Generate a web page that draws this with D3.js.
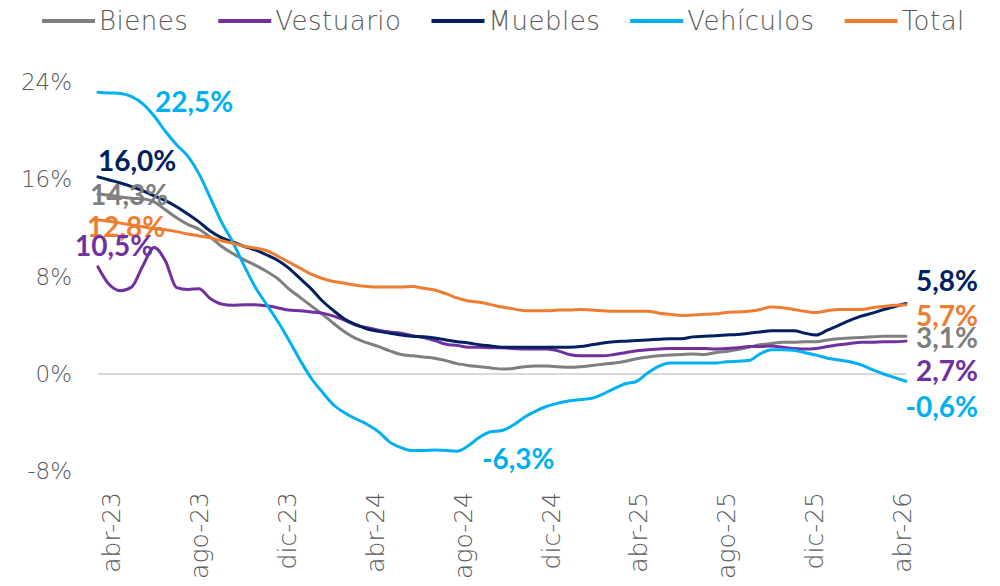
<!DOCTYPE html>
<html>
<head>
<meta charset="utf-8">
<script src="https://cdn.jsdelivr.net/npm/d3@7"></script>
<style>
  body { margin: 0; background: #fff; }
  svg { display: block; }
</style>
</head>
<body>
<div id="viz"></div>
<script>
// semi-monthly readings, from mid mar-23 to early abr-26 (t in months from abr-23)
var tInicio = -0.6, tFin = 36.2;

var bienes = [14.8,14.7,14.55,14.45,14.4,14.15,13.5,12.85,12.3,11.9,
  11.25,10.5,9.9,9.4,8.95,8.45,7.85,7.0,6.3,5.6,
  4.9,4.15,3.45,2.9,2.55,2.25,1.9,1.6,1.5,1.4,
  1.3,1.1,0.85,0.7,0.6,0.5,0.4,0.45,0.6,0.65,
  0.65,0.6,0.55,0.6,0.7,0.8,0.9,1.05,1.25,1.4,
  1.5,1.55,1.6,1.65,1.6,1.75,1.85,2.0,2.2,2.4,
  2.5,2.6,2.6,2.65,2.65,2.8,2.9,2.95,3.0,3.05,
  3.1,3.1,3.1];

var vestuario = [8.8,7.35,6.85,7.15,8.9,10.4,9.3,7.1,6.95,7.0,
  6.2,5.75,5.65,5.7,5.7,5.6,5.45,5.25,5.2,5.1,
  5.0,4.75,4.4,4.0,3.8,3.6,3.45,3.35,3.15,3.0,
  2.75,2.45,2.35,2.2,2.2,2.15,2.15,2.1,2.05,2.05,
  2.05,1.9,1.6,1.5,1.5,1.5,1.6,1.75,1.9,2.0,
  2.05,2.1,2.1,2.1,2.1,2.05,2.1,2.15,2.25,2.25,
  2.3,2.2,2.1,2.05,2.1,2.25,2.4,2.5,2.6,2.6,
  2.65,2.65,2.7];

var muebles = [16.2,15.95,15.7,15.4,15.05,14.65,14.25,13.75,13.15,12.5,
  11.75,11.2,10.85,10.5,10.2,9.8,9.35,8.7,7.85,7.0,
  6.0,5.2,4.5,4.05,3.7,3.5,3.35,3.2,3.1,3.05,
  2.95,2.8,2.65,2.55,2.4,2.3,2.2,2.2,2.2,2.2,
  2.2,2.2,2.2,2.25,2.4,2.55,2.65,2.7,2.75,2.8,
  2.85,2.9,2.9,3.05,3.1,3.15,3.2,3.25,3.35,3.45,
  3.55,3.55,3.55,3.35,3.2,3.6,4.0,4.4,4.75,5.0,
  5.3,5.55,5.8];

var vehiculos = [23.15,23.1,23.05,22.8,22.2,21.2,19.95,18.85,17.9,16.45,
  14.5,12.5,10.85,8.95,7.15,5.75,4.35,2.8,1.15,-0.35,
  -1.5,-2.55,-3.2,-3.7,-4.15,-4.75,-5.6,-6.05,-6.3,-6.3,
  -6.25,-6.3,-6.35,-5.9,-5.2,-4.75,-4.65,-4.2,-3.55,-3.05,
  -2.65,-2.4,-2.2,-2.1,-2.0,-1.65,-1.2,-0.8,-0.6,0.1,
  0.65,0.9,0.9,0.9,0.9,0.9,1.0,1.05,1.1,1.65,
  2.0,2.0,1.95,1.75,1.55,1.3,1.15,1.0,0.75,0.35,
  0.0,-0.3,-0.6];

var total = [12.65,12.55,12.4,12.25,12.1,11.95,11.85,11.7,11.5,11.35,
  11.2,10.95,10.75,10.5,10.35,10.15,9.7,9.2,8.7,8.2,
  7.85,7.6,7.45,7.3,7.2,7.15,7.15,7.15,7.2,7.05,
  6.9,6.6,6.25,6.0,5.9,5.7,5.5,5.35,5.2,5.2,
  5.2,5.25,5.25,5.3,5.25,5.2,5.15,5.15,5.15,5.15,
  5.0,4.9,4.8,4.85,4.9,4.95,5.05,5.1,5.15,5.3,
  5.5,5.45,5.3,5.15,5.05,5.2,5.3,5.3,5.3,5.45,
  5.55,5.65,5.7];

var nombres = ['Bienes', 'Vestuario', 'Muebles', 'Vehículos', 'Total'];
var colores = ['#7f7f7f', '#7030a0', '#002060', '#00b0f0', '#ed7d31'];
var series = [bienes, vestuario, muebles, vehiculos, total];

var mesesTicks = [0, 4, 8, 12, 16, 20, 24, 28, 32, 36];
var etiquetasX = ['abr-23','ago-23','dic-23','abr-24','ago-24','dic-24','abr-25','ago-25','dic-25','abr-26'];
var ticksY = [-8, 0, 8, 16, 24];

// data labels: series index, point index, text
var etiquetas = [
  {s: 3, i: 0, txt: '22,5%', lado: 'izq'},
  {s: 2, i: 0, txt: '16,0%', lado: 'izq'},
  {s: 0, i: 0, txt: '14,3%', lado: 'izq'},
  {s: 4, i: 0, txt: '12,8%', lado: 'izq'},
  {s: 1, i: 0, txt: '10,5%', lado: 'izq'},
  {s: 3, i: 32, txt: '-6,3%', lado: 'izq'},
  {s: 2, i: 72, txt: '5,8%', lado: 'der'},
  {s: 4, i: 72, txt: '5,7%', lado: 'der'},
  {s: 0, i: 72, txt: '3,1%', lado: 'der'},
  {s: 1, i: 72, txt: '2,7%', lado: 'der'},
  {s: 3, i: 72, txt: '-0,6%', lado: 'der'}
];
// offsets of each label from its point (px)
var offsets = [[57, 10], [0, -16], [-8, 1], [-11, 7], [-23, -21], [25, 8],
  [72, -22], [72, 11], [72, 2], [72, 30], [72, 26]];

var width = 1000, height = 586;

var svg = d3.select('#viz').append('svg')
  .attr('width', width)
  .attr('height', height)
  .style('font-family', '"DejaVu Sans", sans-serif');

var x = d3.scaleLinear().domain([tInicio, tFin]).range([98, 906]);
var y = d3.scaleLinear().domain([-8, 24]).range([471.3, 82]);

var n = bienes.length;
function tDe(i) { return tInicio + i * (tFin - tInicio) / (n - 1); }

// zero line
svg.append('line')
  .attr('x1', x(tInicio)).attr('x2', x(tFin))
  .attr('y1', y(0)).attr('y2', y(0))
  .attr('stroke', '#d9d9d9').attr('stroke-width', 2);

// y axis
var yAxis = svg.append('g')
  .attr('transform', 'translate(98,0)')
  .call(d3.axisLeft(y).tickValues(ticksY).tickSize(0).tickPadding(26)
    .tickFormat(function(d) { return d + '%'; }));
yAxis.select('.domain').remove();
yAxis.selectAll('text')
  .attr('fill', '#595959')
  .style('font-size', '23px')
  .style('font-family', '"DejaVu Sans", sans-serif')
  .style('font-weight', 200);

// x axis
var xAxis = svg.append('g')
  .attr('transform', 'translate(0,480)')
  .call(d3.axisBottom(x).tickValues(mesesTicks).tickSize(0)
    .tickFormat(function(d, i) { return etiquetasX[i]; }));
xAxis.select('.domain').remove();
xAxis.selectAll('text')
  .attr('fill', '#595959')
  .attr('transform', 'rotate(-90)')
  .attr('x', -12)
  .attr('y', 0)
  .attr('dy', '0.35em')
  .style('text-anchor', 'end')
  .style('font-size', '25px')
  .style('font-family', '"DejaVu Sans", sans-serif')
  .style('font-weight', 200);

// lines
var line = d3.line()
  .x(function(d, i) { return x(tDe(i)); })
  .y(function(d) { return y(d); })
  .curve(d3.curveMonotoneX);

svg.selectAll('path.serie')
  .data(series)
  .enter().append('path')
    .attr('class', 'serie')
    .attr('d', line)
    .attr('fill', 'none')
    .attr('stroke', function(d, i) { return colores[i]; })
    .attr('stroke-width', 3)
    .attr('stroke-linejoin', 'round')
    .attr('stroke-linecap', 'round');

// data labels
svg.selectAll('text.etq')
  .data(etiquetas)
  .enter().append('text')
    .attr('class', 'etq')
    .attr('x', function(d, k) { return x(tDe(d.i)) + offsets[k][0]; })
    .attr('y', function(d, k) { return y(series[d.s][d.i]) + offsets[k][1]; })
    .attr('dy', '0.36em')
    .attr('text-anchor', function(d) { return d.lado == 'der' ? 'end' : 'start'; })
    .attr('fill', function(d) { return colores[d.s]; })
    .style('font-family', 'Lato, sans-serif')
    .style('font-weight', 'bold')
    .style('font-size', '28px')
    .text(function(d) { return d.txt; });

// legend
var leg = svg.append('g').attr('class', 'legend');
var lx = 42;
nombres.forEach(function(nm, i) {
  leg.append('line')
    .attr('x1', lx).attr('x2', lx + 53)
    .attr('y1', 21).attr('y2', 21)
    .attr('stroke', colores[i]).attr('stroke-width', 4);
  var t = leg.append('text')
    .attr('x', lx + 57).attr('y', 21).attr('dy', '0.35em')
    .attr('fill', '#595959')
    .style('font-size', '26px')
    .style('letter-spacing', '0.5px')
    .style('font-weight', 200)
    .text(nm);
  lx += 57 + t.node().getComputedTextLength() + 30;
});
</script>
</body>
</html>
